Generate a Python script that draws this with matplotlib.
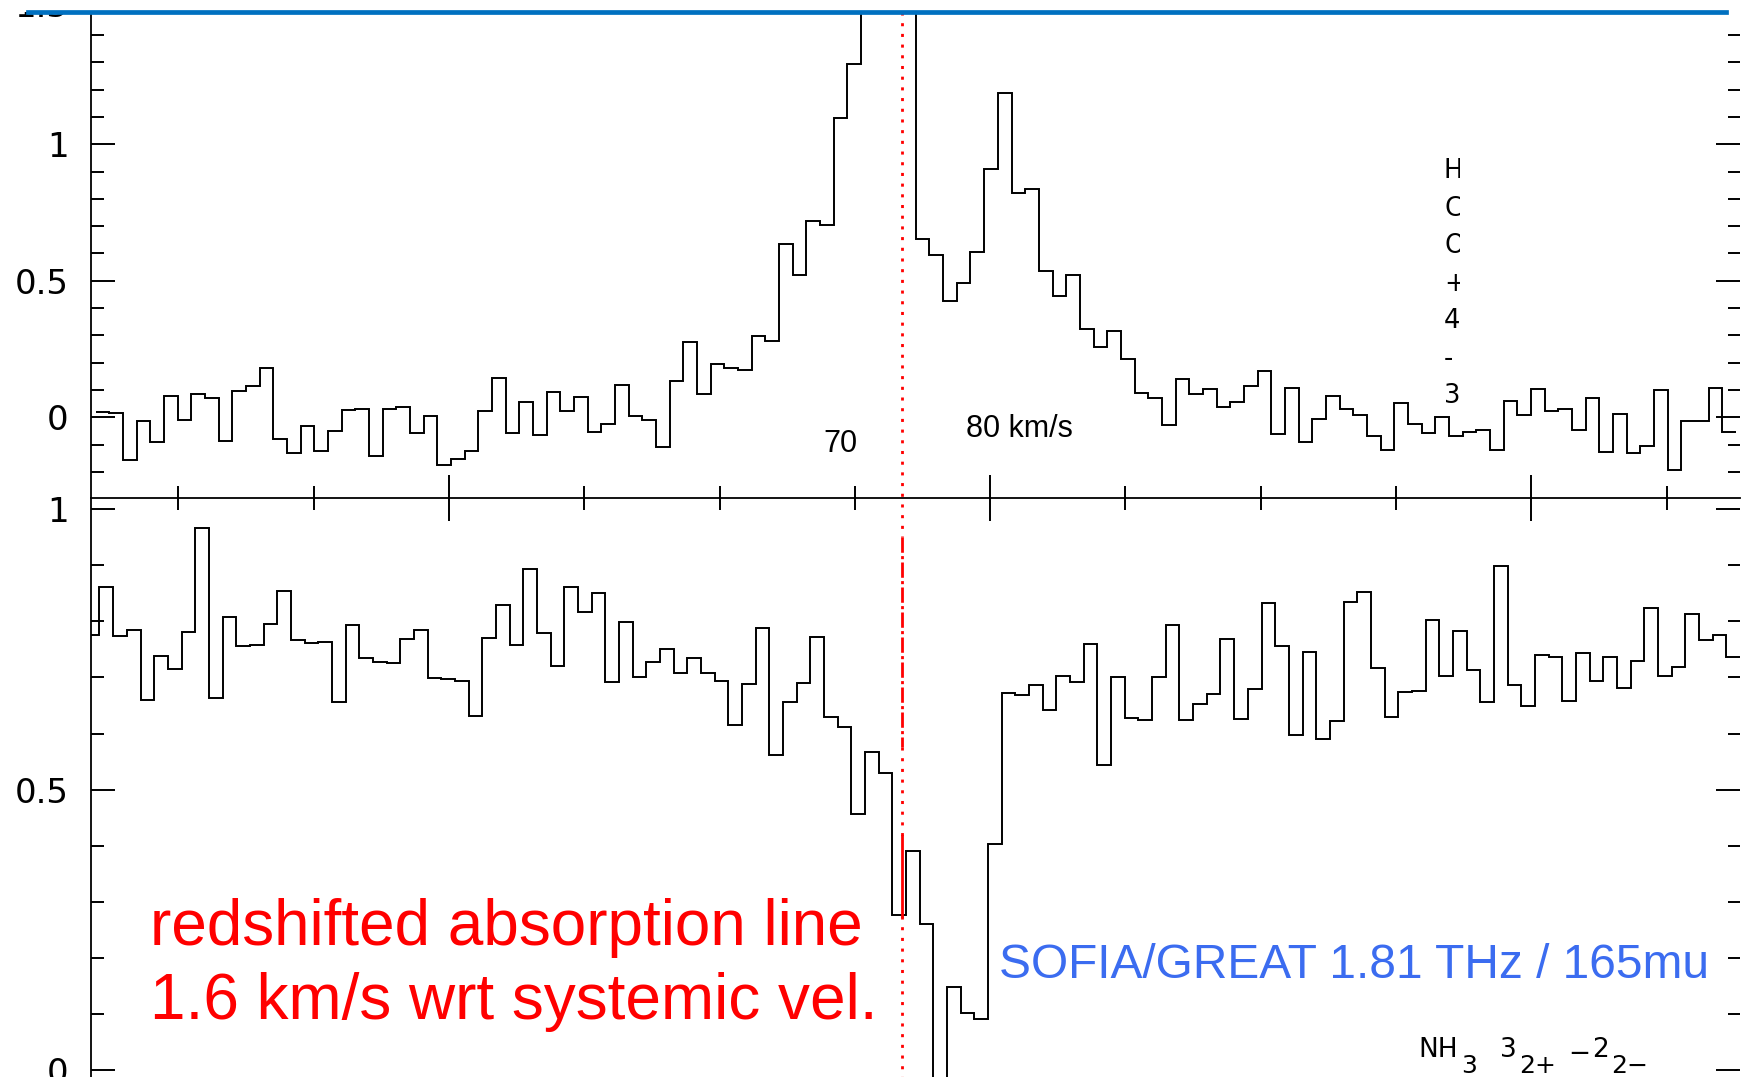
import numpy as np
import matplotlib
matplotlib.use("Agg")
import matplotlib.pyplot as plt
from matplotlib.lines import Line2D
from matplotlib.ticker import MultipleLocator, FixedLocator, FuncFormatter
from matplotlib.transforms import Bbox, TransformedBbox, offset_copy

W, H = 1748, 1077          # output size in pixels (dpi 100)

# ---- spectra (velocity channels, km/s) ----
chan_width = 0.2526
top_start = 63.47          # HCO+ 4-3 emission (upper box)
bot_start = 63.29          # NH3 absorption, normalised continuum (lower box)

top_vals = [
    0.021, 0.017, -0.156, -0.013, -0.089, 0.078, -0.010, 0.087, 0.071, -0.085,
    0.096, 0.115, 0.181, -0.078, -0.132, -0.032, -0.123, -0.049, 0.026, 0.029,
    -0.140, 0.032, 0.037, -0.059, 0.005, -0.176, -0.153, -0.122, 0.024, 0.144,
    -0.059, 0.056, -0.066, 0.093, 0.024, 0.073, -0.054,
    -0.024, 0.118, 0.005, -0.010, -0.110, 0.133, 0.276, 0.084, 0.195, 0.181,
    0.173, 0.298, 0.281, 0.634, 0.520, 0.720, 0.703, 1.096, 1.293,
    1.9, 2.4, 2.3, 1.8,                      # off the top of the box
    0.652, 0.593, 0.425, 0.492, 0.604, 0.911, 1.187, 0.821, 0.835, 0.537,
    0.443, 0.521, 0.324, 0.258, 0.316, 0.214, 0.089, 0.070, -0.029, 0.142,
    0.087,
    0.103, 0.039, 0.057, 0.116, 0.170, -0.062, 0.106, -0.092, -0.006, 0.078,
    0.031, 0.009, -0.068, -0.121, 0.051, -0.024, -0.059, 0.002, -0.068, -0.053,
    -0.046, -0.120, 0.059, 0.007, 0.104, 0.024, 0.031, -0.046, 0.070, -0.128,
    0.011, -0.132, -0.104, 0.100, -0.193, -0.015, -0.015, 0.106, -0.053,
]

bot_vals = [
    0.776, 0.861, 0.774, 0.784, 0.659, 0.738, 0.715, 0.781, 0.966, 0.663,
    0.808, 0.756, 0.757, 0.795, 0.854, 0.766, 0.761, 0.763, 0.656, 0.793,
    0.734, 0.727, 0.725, 0.769, 0.785, 0.699, 0.697, 0.694, 0.632, 0.771,
    0.830, 0.757, 0.893, 0.779, 0.721, 0.861, 0.817, 0.850,
    0.692, 0.799, 0.700, 0.727, 0.751, 0.708, 0.734, 0.708, 0.694, 0.616,
    0.688, 0.789, 0.562, 0.656, 0.690, 0.773, 0.629, 0.612, 0.456, 0.568,
    0.529, 0.276, 0.391, 0.261, -0.05, 0.149, 0.103, 0.092, 0.403, 0.673,
    0.668, 0.687, 0.642, 0.703, 0.692, 0.759, 0.544, 0.700, 0.627, 0.624,
    0.700, 0.793, 0.625, 0.653,
    0.670, 0.769, 0.626, 0.680, 0.832, 0.756, 0.598, 0.745, 0.590, 0.622,
    0.834, 0.852, 0.717, 0.630, 0.675, 0.676, 0.802, 0.703, 0.783, 0.713,
    0.656, 0.898, 0.686, 0.649, 0.740, 0.737, 0.658, 0.744, 0.694, 0.736,
    0.681, 0.729, 0.823, 0.703, 0.719, 0.813, 0.767, 0.776, 0.736,
]

top_edges = top_start + chan_width * np.arange(len(top_vals) + 1)
bot_edges = bot_start + chan_width * np.arange(len(bot_vals) + 1)

x_range = (63.38, 93.855)
top_ylim = (-0.2956, 1.4846)
bot_ylim = (-0.0119, 1.0198)

x_major, x_minor = 10, 2.5
y_major_ticks = [0, 0.5, 1.0]

hco_chars = ["H", "C", "O", "+", "4", "-", "3"]
red_lines = ["redshifted absorption line", "1.6 km/s wrt systemic vel."]
blue_label = "SOFIA/GREAT 1.81 THz / 165mu"
# NH3 3(2+)-2(2-): (text, role) pieces, written one after another
nh3_pieces = [("NH", "main"), ("3", "sub"), ("3", "main"), ("2+", "sub"),
              ("\u2212", "minus"), ("2", "main"), ("2\u2212", "sub")]
nh3_left = [1418, 1461, 1500, 1519, 1568, 1592, 1611]

plt.rcParams["font.family"] = ["DejaVu Sans"]


def fx(px):
    return px / W


def fy(py):
    return 1 - py / H


fig = plt.figure(figsize=(W / 100, H / 100), dpi=100)

ax_bot = fig.add_axes([fx(90.7), 0, fx(1740 - 90.7), 1 - 498 / H])
ax_top = fig.add_axes([fx(90.7), fy(498), fx(1740 - 90.7), (498 - 12) / H])

ax_top.stairs(top_vals, top_edges, baseline=None, color="black", lw=1.4)
ax_bot.stairs(bot_vals, bot_edges, baseline=None, color="black", lw=1.4)

fmt = FuncFormatter(lambda v, pos: f"{v:g}")
for ax, yl in ((ax_top, top_ylim), (ax_bot, bot_ylim)):
    ax.set_xlim(*x_range)
    ax.set_ylim(*yl)
    ax.patch.set_visible(False)
    for s in ("top", "right"):
        ax.spines[s].set_visible(False)
    ax.spines["left"].set_linewidth(1.3)
    ax.yaxis.set_major_locator(FixedLocator(y_major_ticks))
    ax.yaxis.set_minor_locator(MultipleLocator(0.1))
    ax.yaxis.set_major_formatter(fmt)
    ax.tick_params(axis="y", which="both", left=True, right=True,
                   direction="in", width=1.4, labelsize=24.5, pad=16)
    ax.tick_params(axis="y", which="major", length=17.5)
    ax.tick_params(axis="y", which="minor", length=9)

ax_bot.spines["bottom"].set_visible(False)
ax_bot.tick_params(axis="x", which="both", bottom=False, labelbottom=False)

ax_top.spines["bottom"].set_linewidth(1.3)
ax_top.xaxis.set_major_locator(MultipleLocator(x_major))
ax_top.xaxis.set_minor_locator(MultipleLocator(x_minor))
ax_top.tick_params(axis="x", which="both", direction="inout", width=1.4,
                   labelbottom=False)
ax_top.tick_params(axis="x", which="major", length=33)
ax_top.tick_params(axis="x", which="minor", length=17.5)

# the "1.5" label sits above the box; only its lower part shows
t15 = ax_top.text(0, 1.5, "1.5", ha="right", va="center", fontsize=24.5,
                  transform=offset_copy(ax_top.get_yaxis_transform(), fig=fig,
                                        x=-16, units="points"),
                  clip_on=True, zorder=1)
t15.set_clip_box(TransformedBbox(Bbox.from_extents(0, fy(40), fx(90), fy(12)),
                                 fig.transFigure))

# blue frame line along the top
fig.add_artist(Line2D([fx(28), fx(1726)], [fy(12.3), fy(12.3)],
                      color="#0070C0", lw=3.4, zorder=5))

# red marker of the systemic velocity
red_x = fx(902)
red_segments = [
    (12, 537, (0, (1.1, 2.75))),
    (537, 747, (0, (5.5, 1.2, 1.1, 1.2))),
    (747, 836, (0, (1.1, 2.75))),
    (836, 916, "-"),
    (916, 1077, (0, (1.1, 2.75))),
]
for y0, y1, ls in red_segments:
    fig.add_artist(Line2D([red_x, red_x], [fy(y0), fy(y1)], color="red",
                          lw=2.0, linestyle=ls, zorder=4))

# velocity labels
fig.text(fx(840), fy(451.7), "70", ha="center", va="baseline",
         fontsize=22, family="Liberation Sans")
fig.text(fx(966), fy(437), "80 km/s", ha="left", va="baseline",
         fontsize=22, family="Liberation Sans")

# vertical, partly clipped line name
clip = TransformedBbox(Bbox.from_extents(fx(1436), fy(430), fx(1459.5), fy(140)),
                       fig.transFigure)
for i, ch in enumerate(hco_chars):
    t = fig.text(fx(1444), fy(178 + 37.5 * i), ch, ha="left", va="baseline",
                 fontsize=18.5)
    t.set_clip_box(clip)
    t.set_clip_on(True)

for line, base in zip(red_lines, (945.3, 1018.9)):
    fig.text(fx(150), fy(base), line, ha="left", va="baseline", fontsize=46,
             color="red", family="Liberation Sans")

fig.text(fx(999), fy(977.7), blue_label, ha="left", va="baseline",
         fontsize=34.5, color="#3B6CF0", family="Liberation Sans")

nh3_base = {"main": 1057.3, "sub": 1072.7, "minus": 1061.5}
nh3_size = {"main": 19, "sub": 18, "minus": 19}
for (piece, role), x in zip(nh3_pieces, nh3_left):
    fig.text(fx(x), fy(nh3_base[role]), piece, ha="left", va="baseline",
             fontsize=nh3_size[role])

fig.savefig("out.png", dpi=100)
